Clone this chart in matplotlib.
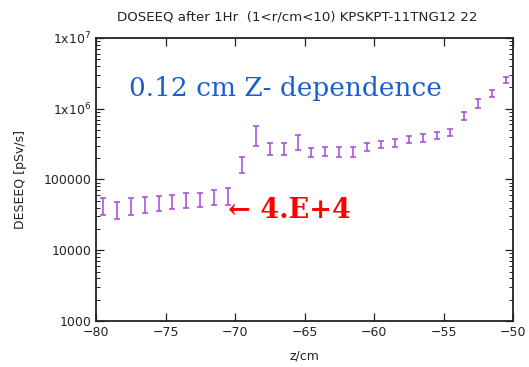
import numpy as np
import matplotlib
matplotlib.use("Agg")
import matplotlib.pyplot as plt
from matplotlib.ticker import FixedLocator, LogLocator, NullFormatter

# bin centres (cm)
z = [-79.5, -78.5, -77.5, -76.5, -75.5, -74.5, -73.5, -72.5, -71.5, -70.5,
     -69.5, -68.5, -67.5, -66.5, -65.5, -64.5, -63.5, -62.5, -61.5, -60.5,
     -59.5, -58.5, -57.5, -56.5, -55.5, -54.5, -53.5, -52.5, -51.5, -50.5]
doseeq = [43100, 38000, 43100, 45200, 47300, 49100, 51500, 52800, 57300, 59300,
          167000, 434000, 277000, 273000, 343000, 243000, 253000, 248000, 248000, 290000,
          313000, 330000, 368000, 391000, 422000, 462000, 801000, 1200000, 1660000, 2560000]
err = [11600, 10600, 11600, 11900, 11100, 11200, 12300, 12300, 13700, 15700,
       43000, 137000, 55000, 51000, 82000, 33000, 38000, 38000, 38000, 36000,
       37000, 40000, 43000, 49000, 52000, 50000, 108000, 160000, 180000, 220000]

xticks = [-80, -75, -70, -65, -60, -55, -50]
yticks = [1e3, 1e4, 1e5, 1e6, 1e7]
ytick_labels = ["1000", "10000", "100000", r"1x10$^6$", r"1x10$^7$"]

fig = plt.figure(figsize=(5.29, 3.67), dpi=100)
ax = fig.add_axes([0.1815, 0.1253, 0.7883, 0.7712])

ax.errorbar(z, doseeq, yerr=err, fmt='none', ecolor='#a448dc', elinewidth=1.1,
            capsize=2.5, capthick=1.1)

ax.set_yscale('log')
ax.set_xlim(-80, -50)
ax.set_ylim(1e3, 1e7)
ax.xaxis.set_major_locator(FixedLocator(xticks))
ax.yaxis.set_major_locator(FixedLocator(yticks))
ax.set_yticklabels(ytick_labels)
ax.yaxis.set_minor_locator(LogLocator(base=10, subs=np.arange(2, 10)))
ax.yaxis.set_minor_formatter(NullFormatter())
ax.tick_params(axis='both', which='both', direction='in', top=True, right=True,
               labelsize=9, colors='#222222')
ax.tick_params(which='major', length=6, width=0.9)
ax.tick_params(which='minor', length=3, width=0.7)
for s in ax.spines.values():
    s.set_linewidth(1.3)
    s.set_color('#222222')

ax.set_xlabel('z/cm', fontsize=9, color='#222222', labelpad=8)
ax.set_ylabel('DESEEQ [pSv/s]', fontsize=9, color='#222222', labelpad=12)
fig.text(0.562, 0.955, 'DOSEEQ after 1Hr  (1<r/cm<10) KPSKPT-11TNG12 22',
         ha='center', va='center', fontsize=9.6, color='#222222')

ax.text(0.08, 0.82, '0.12 cm Z- dependence', transform=ax.transAxes,
        fontsize=19, color='#1a5fd0', family='DejaVu Serif', va='center')
ax.text(0.316, 0.39, '\u2190 4.E+4', transform=ax.transAxes,
        fontsize=19.5, color='#ff0000', fontweight='bold', family='DejaVu Serif',
        va='center')

fig.savefig('out.png', dpi=100)
